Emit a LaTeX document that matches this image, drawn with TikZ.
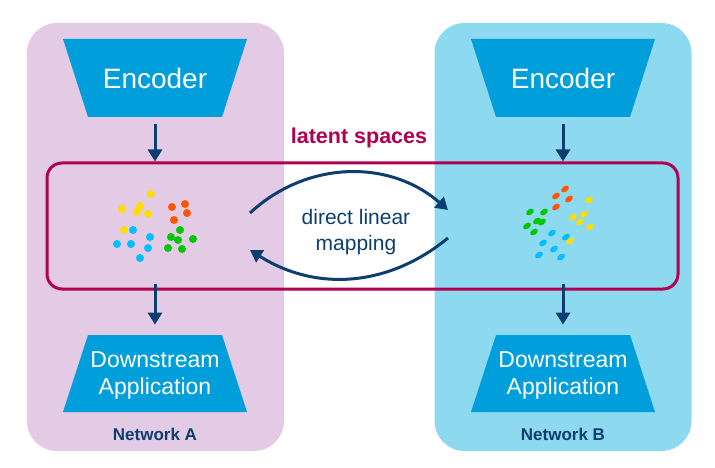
\documentclass[tikz,border=0pt]{standalone}
\usepackage{fontspec}
\setmainfont{Liberation Sans}
\usepackage{tikz}
\usetikzlibrary{
  arrows.meta,
  positioning
}
\definecolor{panelA}{RGB}{227,202,229}
\definecolor{panelB}{RGB}{141,217,240}
\definecolor{blockblue}{RGB}{0,159,219}
\definecolor{navy}{RGB}{12,62,112}
\definecolor{latentred}{RGB}{178,0,80}
\definecolor{dotyellow}{RGB}{255,221,0}
\definecolor{dotorange}{RGB}{255,85,0}
\definecolor{dotgreen}{RGB}{0,200,0}
\definecolor{dotblue}{RGB}{0,190,255}
\tikzset{every picture/.style={line width=0.75pt}}
\tikzset{
  network/.style={rounded corners=30pt, minimum width=257pt, minimum height=428pt, inner sep=0pt},
  blocktext/.style={text=white, minimum width=134pt, minimum height=78pt, inner sep=0pt, align=center},
  flow/.style={navy, line width=3pt, -{Triangle[width=14pt,length=12pt]}},
  netlabel/.style={text=navy, font=\bfseries\fontsize{17}{19}\selectfont}
}

\begin{document}
\begin{tikzpicture}[x=1pt, y=-1pt]
\useasboundingbox (0,0) rectangle (715,468);

% Network A / Network B
\node[network, fill=panelA] (net-a) at (155.5,237) {};
\node[network, fill=panelB] (net-b) at (563,237) {};
\node[netlabel] (lab-a) at (155,434) {Network A};
\node[netlabel] (lab-b) at (563,434) {Network B};

% Latent spaces
\node[draw=latentred, line width=3pt, rounded corners=15pt, minimum width=631pt, minimum height=126pt] (latent) at (362.5,226) {};
\node[text=latentred, font=\bfseries\fontsize{21.5}{24}\selectfont] (lat-label) at (359,138) {latent spaces};

% Encoders (wide side on top)
\fill[blockblue, shift={(155,78)}] (-92,-39) -- (92,-39) -- (67,39) -- (-67,39) -- cycle;
\fill[blockblue, shift={(563,78)}] (-92,-39) -- (92,-39) -- (67,39) -- (-67,39) -- cycle;
\node[blocktext, font=\fontsize{28}{32}\selectfont] (enc-a) at (155,78) {Encoder};
\node[blocktext, font=\fontsize{28}{32}\selectfont] (enc-b) at (563,78) {Encoder};

% Downstream applications (wide side at the bottom)
\fill[blockblue, shift={(155,373.5)}] (-67,-38.5) -- (67,-38.5) -- (92,38.5) -- (-92,38.5) -- cycle;
\fill[blockblue, shift={(563,373.5)}] (-67,-38.5) -- (67,-38.5) -- (92,38.5) -- (-92,38.5) -- cycle;
\node[blocktext, minimum height=77pt, font=\fontsize{23}{27}\selectfont] (app-a) at (155,375) {Downstream\\Application};
\node[blocktext, minimum height=77pt, font=\fontsize{23}{27}\selectfont] (app-b) at (563,375) {Downstream\\Application};

% Arrows in and out of the latent spaces
\draw[flow] ([yshift=-7pt]enc-a.south) -- (enc-a.south |- latent.north);
\draw[flow] ([yshift=-7pt]enc-b.south) -- (enc-b.south |- latent.north);
\draw[flow] ([yshift=7pt]app-a.north |- latent.south) -- ([yshift=11.5pt]app-a.north);
\draw[flow] ([yshift=7pt]app-b.north |- latent.south) -- ([yshift=11.5pt]app-b.north);

% Direct linear mapping
\node[text=navy, font=\fontsize{21}{26}\selectfont, align=center] (map) at (356,232) {direct linear\\mapping};
\coordinate (map-a-top) at (250,213);
\coordinate (map-b-top) at (448,210);
\coordinate (map-b-bot) at (448,238);
\coordinate (map-a-bot) at (250,250);
\draw[flow] (map-a-top) to[bend left=42] (map-b-top);
\draw[flow] (map-b-bot) to[bend left=36] (map-a-bot);

% Points of network A
\foreach \p in {(151,194),(140,206),(122,209),(137,212),(148,214),(124,230)}
  \fill[dotyellow] \p circle (4pt);
\foreach \p in {(172,207),(185,204),(187,213),(174,220)}
  \fill[dotorange] \p circle (4pt);
\foreach \p in {(180,230),(171,237),(178,240),(193,239),(168,248),(182,249)}
  \fill[dotgreen] \p circle (4pt);
\foreach \p in {(133,230),(150,237),(117,244),(131,244),(148,248),(140,258)}
  \fill[dotblue] \p circle (4pt);

% Points of network B
\foreach \x/\y in {565/189,556/196,569/199,556/207}
  \fill[dotorange, rotate around={35:(\x,\y)}] (\x,\y) ellipse (4.3pt and 2.8pt);
\foreach \x/\y in {589/200,573/217,584/214,580/222,590/227,570/241}
  \fill[dotyellow, rotate around={35:(\x,\y)}] (\x,\y) ellipse (4.3pt and 2.8pt);
\foreach \x/\y in {530/212,544/212,537/221,542/222,527/226,534/232}
  \fill[dotgreen, rotate around={35:(\x,\y)}] (\x,\y) ellipse (4.3pt and 2.8pt);
\foreach \x/\y in {552/233,566/237,543/243,554/249,539/255,561/257}
  \fill[dotblue, rotate around={35:(\x,\y)}] (\x,\y) ellipse (4.3pt and 2.8pt);
\end{tikzpicture}
\end{document}
